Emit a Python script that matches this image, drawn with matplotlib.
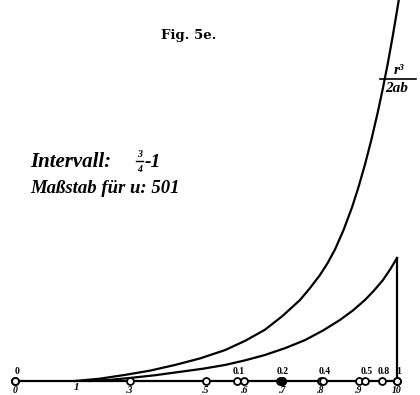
import matplotlib
matplotlib.use('Agg')
import matplotlib.pyplot as plt

# lower scale: positions along the base line and their labels
bottom_pos = [0.0, 0.3, 0.5, 0.6, 0.7, 0.8, 0.9, 1.0]
bottom_lab = ['0', '.3', '.5', '.6', '.7', '.8', '.9', '10']

# upper scale: positions of the u-values on the same line
top_pos = [0.0, 0.581, 0.695, 0.806, 0.916, 0.961, 1.0]
top_lab = ['0', '0.1', '0.2', '0.4', '0.5', '0.8', '1']

# curve r^3/2ab (upper) and the second curve (lower)
upper_u = [0.157, 0.222, 0.288, 0.353, 0.419, 0.484, 0.550, 0.602, 0.654, 0.700,
           0.746, 0.772, 0.798, 0.818, 0.838, 0.860, 0.882, 0.899, 0.916, 0.933,
           0.950, 0.963, 0.976, 0.988, 1.0, 1.006]
upper_v = [0.000, 0.006, 0.016, 0.027, 0.042, 0.059, 0.081, 0.105, 0.134, 0.170,
           0.212, 0.243, 0.277, 0.308, 0.345, 0.395, 0.454, 0.507, 0.566, 0.632,
           0.705, 0.766, 0.832, 0.898, 0.969, 1.006]
lower_u = [0.196, 0.249, 0.301, 0.366, 0.432, 0.491, 0.550, 0.602, 0.654, 0.707,
           0.759, 0.806, 0.851, 0.885, 0.916, 0.940, 0.963, 0.982, 1.0]
lower_v = [0.000, 0.003, 0.008, 0.015, 0.024, 0.032, 0.042, 0.054, 0.068, 0.086,
           0.107, 0.132, 0.160, 0.185, 0.212, 0.237, 0.264, 0.292, 0.322]

serif_bi = dict(family='Liberation Serif', weight='bold', style='italic')

fig = plt.figure(figsize=(4.2, 3.95), dpi=100)
ax = fig.add_axes([0, 0, 1, 1])
ax.set_xlim(-15 / 382, 405 / 382)
ax.set_ylim(-14 / 382, 381 / 382)
ax.axis('off')

# base line
ax.plot([0, 1], [0, 0], color='black', lw=1.6, solid_capstyle='butt')

# curves and closing vertical
ax.plot(upper_u, upper_v, color='black', lw=1.6)
ax.plot(lower_u, lower_v, color='black', lw=1.6)
ax.plot([1, 1], [0, lower_v[-1]], color='black', lw=1.6)

# scale marks
ax.plot(bottom_pos, [0] * len(bottom_pos), 'o', ms=5, mfc='white', mec='black', mew=1.3)
ax.plot(top_pos, [0] * len(top_pos), 'o', ms=5, mfc='white', mec='black', mew=1.3)
ax.plot([0.699], [0], 'o', ms=5.5, mfc='black', mec='black')

for p, s in zip(bottom_pos, bottom_lab):
    ax.text(p, -0.024, s, ha='center', va='center', fontsize=7, **serif_bi)
ax.text(0.162, -0.018, '1', ha='center', va='center', fontsize=8, **serif_bi)
for p, s in zip(top_pos, top_lab):
    ax.text(p + 0.005, 0.026, s, ha='center', va='center', fontsize=7,
            family='Liberation Serif', weight='bold')

# title and annotations
ax.text(0.455, 0.905, 'Fig. 5e.', ha='center', va='center', fontsize=9.5,
        family='DejaVu Serif', weight='bold')
ax.text(0.04, 0.572, 'Intervall:', ha='left', va='center', fontsize=15, **serif_bi)
ax.text(0.325, 0.592, '3', ha='center', va='center', fontsize=7, **serif_bi)
ax.plot([0.316, 0.334], [0.575, 0.575], color='black', lw=1)
ax.text(0.325, 0.553, '4', ha='center', va='center', fontsize=7, **serif_bi)
ax.text(0.34, 0.572, '-1', ha='left', va='center', fontsize=14, **serif_bi)
ax.text(0.04, 0.503, 'Maßstab für u: 501', ha='left', va='center', fontsize=13.5, **serif_bi)

ax.text(1.005, 0.812, 'r³', ha='center', va='center', fontsize=11, **serif_bi)
ax.plot([0.955, 1.05], [0.79, 0.79], color='black', lw=1.2)
ax.text(1.0, 0.765, '2ab', ha='center', va='center', fontsize=11, **serif_bi)

fig.savefig('out.png', dpi=100)
